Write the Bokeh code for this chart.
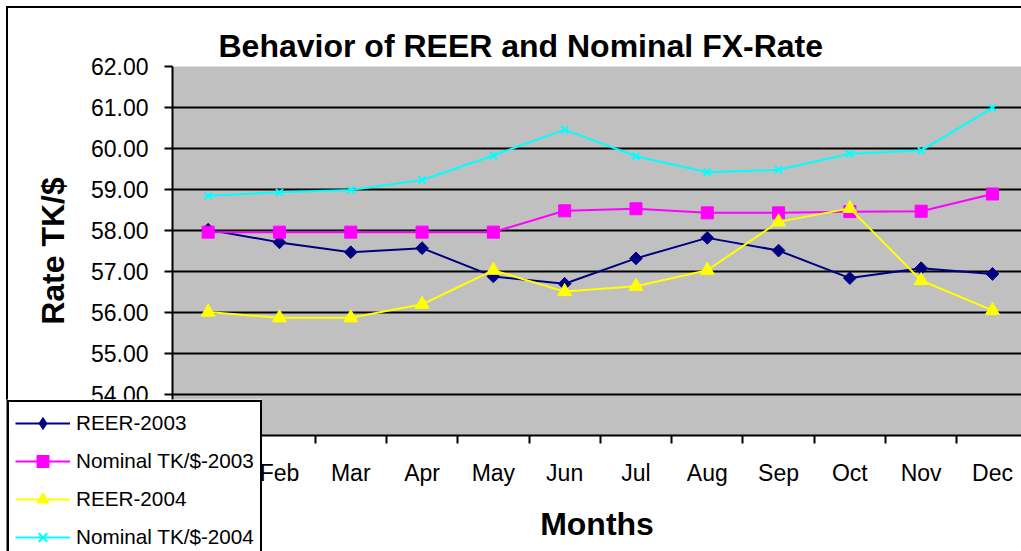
import math
from bokeh.plotting import figure
from bokeh.layouts import column
from bokeh.models import (FixedTicker, NumeralTickFormatter, Legend, LegendItem, Range1d)
from bokeh.embed import file_html
from bokeh.resources import INLINE

months = ["Jan", "Feb", "Mar", "Apr", "May", "Jun", "Jul", "Aug", "Sep", "Oct", "Nov", "Dec"]
reer_2003 = [58.02, 57.71, 57.47, 57.57, 56.88, 56.70, 57.32, 57.82, 57.51, 56.84, 57.08, 56.94]
nominal_2003 = [57.96, 57.96, 57.96, 57.96, 57.96, 58.48, 58.53, 58.43, 58.43, 58.46, 58.47, 58.89]
reer_2004 = [56.01, 55.87, 55.87, 56.20, 57.03, 56.51, 56.64, 57.03, 58.21, 58.54, 56.78, 56.05]
nominal_2004 = [58.85, 58.93, 58.99, 59.23, 59.83, 60.46, 59.81, 59.42, 59.48, 59.87, 59.95, 60.99]
y_ticks = [53, 54, 55, 56, 57, 58, 59, 60, 61, 62]
series_names = ["REER-2003", "Nominal TK/$-2003", "REER-2004", "Nominal TK/$-2004"]

FONT = "Liberation Sans"
xs = list(range(len(months)))

p = figure(width=1013, height=543, output_backend="svg", toolbar_location=None,
           x_range=Range1d(-0.5, 11.407), y_range=Range1d(53, 62),
           min_border_left=164, min_border_right=0, min_border_top=58, min_border_bottom=116,
           title="Behavior of REER and Nominal FX-Rate")
p.background_fill_color = "#C0C0C0"
p.border_fill_color = "white"
p.outline_line_color = None

p.title.text_font = FONT
p.title.text_font_size = "32px"
p.title.text_font_style = "bold"
p.title.text_color = "black"
p.title.align = "left"
p.title.offset = 46
p.title.standoff = 6

# grids
p.xgrid.grid_line_color = None
p.ygrid.ticker = FixedTicker(ticks=y_ticks)
p.ygrid.grid_line_color = "black"
p.ygrid.grid_line_width = 2

# y axis
ya = p.yaxis[0]
ya.ticker = FixedTicker(ticks=y_ticks)
ya.formatter = NumeralTickFormatter(format="0.00")
ya.axis_label = "Rate TK/$"
ya.axis_label_text_font = FONT
ya.axis_label_text_font_size = "32px"
ya.axis_label_text_font_style = "bold"
ya.axis_label_text_color = "black"
ya.axis_label_standoff = 17
ya.major_label_text_font = FONT
ya.major_label_text_font_size = "23px"
ya.major_label_text_color = "black"
ya.major_label_standoff = 16
ya.major_tick_out = 8
ya.major_tick_in = 0
ya.major_tick_line_width = 2
ya.minor_tick_line_color = None
ya.axis_line_width = 2

# x axis
xa = p.xaxis[0]
xa.ticker = FixedTicker(ticks=xs, minor_ticks=[i + 0.5 for i in range(-1, 12)])
xa.major_label_overrides = {i: m for i, m in enumerate(months)}
xa.axis_label = "Months"
xa.axis_label_text_font = FONT
xa.axis_label_text_font_size = "32px"
xa.axis_label_text_font_style = "bold"
xa.axis_label_text_color = "black"
xa.axis_label_standoff = 17
xa.major_label_text_font = FONT
xa.major_label_text_font_size = "23px"
xa.major_label_text_color = "black"
xa.major_label_standoff = 16
xa.major_tick_line_color = None
xa.major_tick_out = 0
xa.major_tick_in = 0
xa.minor_tick_out = 8
xa.minor_tick_in = 0
xa.minor_tick_line_width = 2
xa.minor_tick_line_color = "black"
xa.axis_line_width = 2

styles = [
    ("#000080", "square", 9, math.pi / 4),
    ("#FF00FF", "square", 12, 0),
    ("#FFFF00", "triangle", 14, 0),
    ("#00FFFF", "x", 10, 0),
]
legend_markers = ["diamond", "square", "triangle", "x"]
data = [reer_2003, nominal_2003, reer_2004, nominal_2004]

for ys, (color, marker, size, ang) in zip(data, styles):
    p.line(xs, ys, line_color=color, line_width=2)
    if marker == "x":
        p.scatter(xs, ys, marker="x", size=size, line_color=color, line_width=2)
    else:
        p.scatter(xs, ys, marker=marker, size=size, angle=ang, fill_color=color, line_color=color)

# legend panel (overlapping the chart like the original); the series are
# repeated here out of view only so that the legend has renderers to describe
lf = figure(width=256, height=152, output_backend="svg", toolbar_location=None,
            x_range=Range1d(1000, 1001), y_range=Range1d(1000, 1001),
            x_axis_location=None, y_axis_location=None,
            min_border=0, min_border_left=0, min_border_right=0, min_border_top=0, min_border_bottom=0)
lf.grid.grid_line_color = None
lf.outline_line_color = None
lf.background_fill_color = "white"
lf.border_fill_color = "white"

items = []
for name, ys, lm, (color, marker, size, ang) in zip(series_names, data, legend_markers, styles):
    ln = lf.line(xs, ys, line_color=color, line_width=2)
    if lm == "x":
        mk = lf.scatter(xs, ys, marker="x", size=size, line_color=color, line_width=2)
    else:
        mk = lf.scatter(xs, ys, marker=lm, size=size, fill_color=color, line_color=color)
    items.append(LegendItem(label=name, renderers=[ln, mk]))

legend = Legend(items=items, location="top_left")
legend.label_text_font = FONT
legend.label_text_font_size = "20.7px"
legend.label_text_color = "black"
legend.glyph_width = 55
legend.glyph_height = 30
legend.label_height = 30
legend.spacing = 8
legend.padding = 6
legend.margin = 1
legend.label_standoff = 6
legend.border_line_color = "black"
legend.border_line_width = 2
legend.border_line_alpha = 1
legend.background_fill_color = "white"
legend.background_fill_alpha = 1
lf.add_layout(legend, "center")
lf.styles = {"position": "absolute", "left": "6px", "top": "399px", "z-index": "10"}

root = column(p, spacing=0)
root.styles = {"margin-left": "6px", "margin-top": "6px",
               "border-left": "2px solid black", "border-top": "2px solid black"}

open("out.html", "w").write(file_html([root, lf], INLINE))
